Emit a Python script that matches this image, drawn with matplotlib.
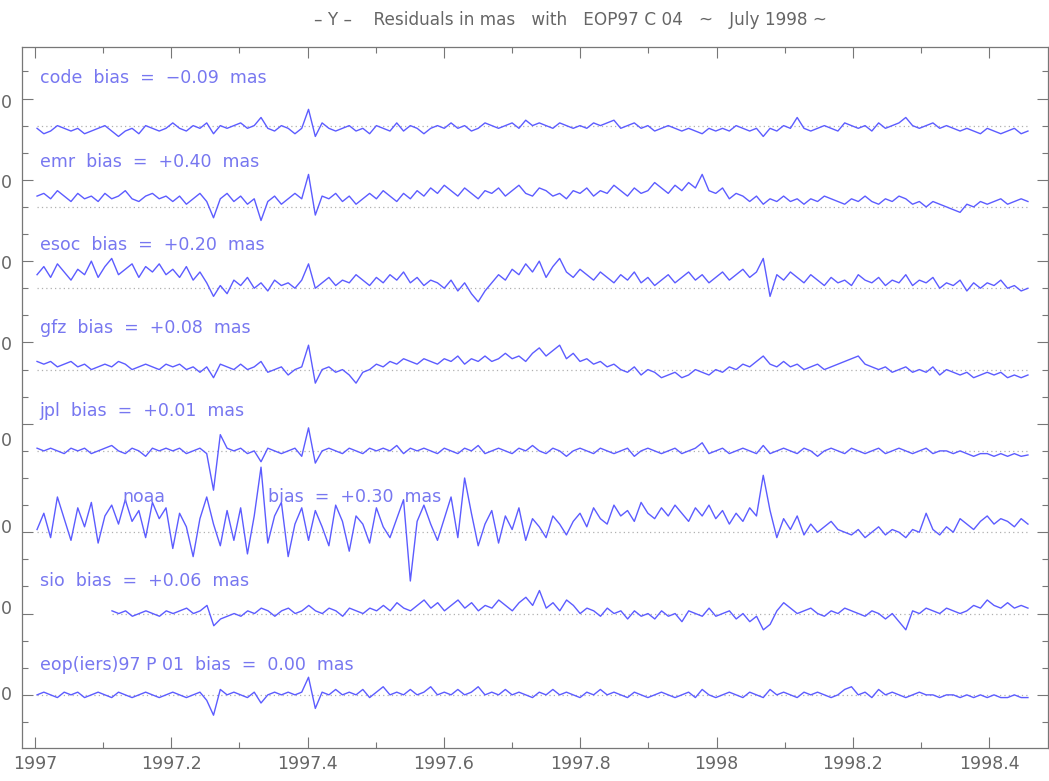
import numpy as np
import matplotlib
matplotlib.use("Agg")
import matplotlib.pyplot as plt
from matplotlib.ticker import FixedLocator, MultipleLocator

# ---------------- data (values in axis units, relative to each series' baseline) ----------------
names = ["code", "emr", "esoc", "gfz", "jpl", "noaa", "sio", "eop(iers)97 P 01"]
bias_text = ["bias  =  \u22120.09  mas", "bias  =  +0.40  mas", "bias  =  +0.20  mas", "bias  =  +0.08  mas",
             "bias  =  +0.01  mas", "bias  =  +0.30  mas", "bias  =  +0.06  mas", "bias  =  0.00  mas"]
baselines = [21, 18, 15, 12, 9, 6, 3, 0]
zero_label_pos = [21.85, 18.9, 15.9, 12.9, 9.35, 6.15, 3.15, 0.0]
major_ticks = [22, 19, 16, 13, 10, 6, 3, 0]
label_y = [22.77, 19.67, 16.6, 13.54, 10.48, 7.3, 4.2, 1.1]

t_start, t_end = 1997.003, 1998.457
sio_start = 1997.113

code = [-0.1,-0.3,-0.2,0.0,-0.1,-0.2,-0.1,-0.3,-0.2,-0.1, 0.0,-0.2,-0.4,-0.2,-0.1,-0.3,0.0,-0.1,-0.2,-0.1,
        0.1,-0.1,-0.2,0.0,-0.1,0.1,-0.3,0.0,-0.1,0.0, 0.1,-0.1,0.0,0.3,-0.1,-0.2,0.0,-0.1,-0.3,-0.1,
        0.6,-0.4,0.1,-0.1,-0.2,-0.1,0.0,-0.2,-0.1,-0.3, 0.0,-0.1,-0.2,0.1,-0.2,0.0,-0.1,-0.3,-0.1,0.0,
        -0.1,0.1,-0.1,0.0,-0.2,-0.1,0.1,0.0,-0.1,0.0, 0.1,-0.1,0.2,0.0,0.1,0.0,-0.1,0.1,0.0,-0.1,
        0.0,-0.1,0.1,0.0,0.1,0.2,-0.1,0.0,0.1,-0.1, 0.0,-0.2,-0.1,0.0,-0.1,-0.2,-0.1,-0.2,-0.3,-0.1,
        -0.2,-0.1,-0.2,0.0,-0.1,-0.2,-0.1,-0.4,-0.1,-0.2, 0.0,-0.1,0.3,-0.1,-0.2,-0.1,0.0,-0.1,-0.2,0.1,
        0.0,-0.1,0.0,-0.2,0.1,-0.1,0.0,0.1,0.3,0.0, -0.1,0.0,0.1,-0.1,0.0,-0.1,-0.2,-0.1,-0.2,-0.3,
        -0.1,-0.2,-0.3,-0.2,-0.1,-0.3,-0.2]

emr = [0.4,0.5,0.3,0.6,0.4,0.2,0.5,0.3,0.4,0.2, 0.5,0.3,0.4,0.6,0.3,0.2,0.4,0.5,0.3,0.4,
       0.2,0.4,0.1,0.3,0.5,0.2,-0.4,0.3,0.5,0.2, 0.4,0.1,0.3,-0.5,0.2,0.4,0.1,0.3,0.5,0.3,
       1.2,-0.3,0.4,0.3,0.5,0.2,0.4,0.1,0.3,0.5, 0.3,0.6,0.4,0.2,0.5,0.3,0.6,0.4,0.7,0.5,
       0.8,0.6,0.4,0.7,0.5,0.3,0.6,0.5,0.7,0.4, 0.6,0.8,0.5,0.4,0.7,0.6,0.4,0.5,0.3,0.6,
       0.5,0.7,0.4,0.6,0.5,0.8,0.6,0.4,0.7,0.5, 0.6,0.9,0.7,0.5,0.8,0.6,0.9,0.7,1.2,0.6,
       0.5,0.7,0.3,0.5,0.4,0.2,0.4,0.1,0.3,0.2, 0.4,0.2,0.3,0.1,0.3,0.2,0.4,0.3,0.2,0.1,
       0.3,0.2,0.4,0.2,0.1,0.3,0.2,0.4,0.3,0.1, 0.2,0.0,0.2,0.1,0.0,-0.1,-0.2,0.1,0.0,0.2,
       0.1,0.2,0.3,0.1,0.2,0.3,0.2]

esoc = [0.5,0.8,0.4,0.9,0.6,0.3,0.7,0.5,1.0,0.4, 0.8,1.1,0.5,0.7,0.9,0.4,0.8,0.6,0.9,0.5,
        0.7,0.4,0.8,0.3,0.6,0.2,-0.3,0.1,-0.2,0.3, 0.1,0.4,0.0,0.2,-0.1,0.3,0.1,0.2,0.0,0.3,
        0.9,0.0,0.2,0.4,0.1,0.3,0.2,0.5,0.3,0.1, 0.4,0.2,0.5,0.3,0.6,0.2,0.4,0.1,0.3,0.2,
        0.0,0.3,-0.1,0.2,-0.2,-0.5,-0.1,0.2,0.5,0.3, 0.7,0.5,0.9,0.6,1.0,0.4,0.8,1.1,0.6,0.4,
        0.7,0.5,0.3,0.6,0.4,0.2,0.5,0.3,0.6,0.2, 0.4,0.1,0.3,0.5,0.2,0.4,0.6,0.3,0.5,0.2,
        0.4,0.6,0.3,0.5,0.7,0.4,0.6,1.1,-0.3,0.5, 0.3,0.6,0.4,0.2,0.5,0.3,0.1,0.4,0.2,0.3,
        0.1,0.5,0.3,0.2,0.4,0.1,0.3,0.2,0.5,0.1, 0.3,0.2,0.4,0.0,0.2,0.1,0.3,-0.1,0.2,0.0,
        0.2,0.1,0.3,0.0,0.1,-0.1,0.0]

gfz = [0.3,0.2,0.3,0.1,0.2,0.3,0.1,0.2,0.0,0.1, 0.2,0.1,0.3,0.2,0.0,0.1,0.2,0.1,0.0,0.2,
       0.1,0.2,0.0,0.1,-0.1,0.1,-0.3,0.2,0.1,0.0, 0.2,0.0,0.1,0.3,-0.1,0.0,0.1,-0.2,0.0,0.1,
       0.9,-0.5,0.0,0.1,-0.1,0.0,-0.2,-0.5,-0.1,0.0, 0.2,0.1,0.3,0.2,0.4,0.3,0.2,0.4,0.3,0.2,
       0.4,0.3,0.5,0.2,0.4,0.3,0.5,0.3,0.4,0.6, 0.4,0.5,0.3,0.6,0.8,0.5,0.7,0.9,0.4,0.6,
       0.3,0.4,0.2,0.3,0.1,0.2,0.0,-0.1,0.1,-0.2, 0.0,-0.1,-0.3,-0.2,-0.1,-0.3,-0.2,0.0,-0.1,-0.2,
       0.0,-0.1,0.1,0.0,0.2,0.1,0.3,0.5,0.2,0.1, 0.3,0.1,0.2,0.0,0.1,0.2,0.0,0.1,0.2,0.3,
       0.4,0.5,0.2,0.1,0.0,0.1,-0.1,0.0,0.1,-0.1, 0.0,-0.1,0.1,-0.2,0.0,-0.1,-0.2,-0.1,-0.3,-0.2,
       -0.1,-0.2,-0.1,-0.3,-0.2,-0.3,-0.2]

jpl = [0.1,0.0,0.1,0.0,-0.1,0.1,0.0,0.1,-0.1,0.0, 0.1,0.2,0.0,-0.1,0.1,0.0,-0.2,0.1,0.0,0.1,
       0.0,0.1,-0.1,0.0,0.1,-0.1,-1.45,0.6,0.1,0.0, 0.1,-0.1,0.0,-0.4,0.1,0.0,-0.1,0.0,0.1,-0.2,
       0.85,-0.45,0.0,0.1,0.0,-0.1,0.1,0.0,-0.1,0.1, 0.0,0.1,0.0,0.2,-0.1,0.1,0.0,0.1,0.0,-0.1,
       0.1,0.0,-0.1,0.1,0.0,0.2,-0.1,0.0,0.1,0.0, -0.1,0.1,0.0,0.2,0.0,-0.1,0.1,0.0,-0.2,0.0,
       0.1,0.0,-0.1,0.1,0.0,-0.1,0.0,0.1,-0.2,0.0, 0.1,0.0,-0.1,0.0,0.1,-0.1,0.0,0.1,0.3,-0.1,
       0.0,0.1,-0.1,0.0,0.1,0.0,-0.1,0.2,-0.1,0.0, 0.1,0.0,-0.1,0.1,0.0,-0.2,0.0,0.1,0.0,-0.1,
       0.1,0.0,-0.1,0.0,0.1,-0.1,0.0,0.1,0.0,-0.1, 0.0,0.1,-0.1,0.0,0.0,-0.1,0.0,-0.1,-0.2,-0.1,
       -0.1,-0.2,-0.1,-0.2,-0.1,-0.2,-0.15]

noaa = [0.1,0.7,-0.2,1.3,0.5,-0.3,0.9,0.2,1.1,-0.4, 0.6,1.0,0.3,1.2,0.4,0.8,-0.2,1.1,0.5,0.9,
        -0.6,0.7,0.2,-0.9,0.5,1.3,0.3,-0.5,0.8,-0.3, 0.9,-0.8,0.6,2.4,-0.4,0.6,1.1,-0.9,0.3,0.9,
        -0.3,0.8,0.2,-0.5,1.0,0.4,-0.7,0.6,0.3,-0.4, 0.9,0.2,-0.2,0.5,1.2,-1.8,0.4,1.0,0.3,-0.3,
        0.5,1.3,-0.2,2.0,0.7,-0.5,0.3,0.8,-0.4,0.6, 0.1,0.9,-0.3,0.5,0.2,-0.2,0.6,0.3,-0.1,0.4,
        0.7,0.2,0.9,0.5,0.3,1.0,0.6,0.8,0.4,1.1, 0.7,0.5,0.9,0.6,1.0,0.7,0.4,0.9,0.6,1.0,
        0.5,0.8,0.3,0.7,0.4,0.9,0.6,2.1,0.8,-0.2, 0.5,0.1,0.6,-0.1,0.3,0.0,0.2,0.4,0.1,0.0,
        -0.1,0.1,-0.2,0.0,0.2,-0.1,0.1,0.0,-0.2,0.1, 0.0,0.7,0.1,-0.1,0.2,0.0,0.5,0.3,0.1,0.4,
        0.6,0.3,0.5,0.4,0.2,0.5,0.3]

sio = [0.1,0.0,0.1,-0.1,0.0,0.1,0.0,-0.1,0.1,0.0, 0.1,0.2,0.0,0.1,0.3,-0.45,-0.2,-0.1,0.0,-0.1,
       0.1,0.0,0.2,0.1,-0.1,0.1,0.2,0.0,0.1,0.3, 0.1,0.0,0.2,0.1,-0.1,0.2,0.1,0.0,0.2,0.1,
       0.3,0.1,0.4,0.2,0.1,0.3,0.5,0.2,0.4,0.1, 0.3,0.5,0.2,0.4,0.1,0.3,0.2,0.5,0.3,0.1,
       0.4,0.6,0.3,0.85,0.2,0.4,0.1,0.5,0.3,0.0, 0.2,0.1,-0.1,0.2,0.0,0.1,-0.2,0.1,-0.1,0.0,
       -0.2,0.1,-0.1,0.0,-0.3,0.1,0.0,-0.1,0.2,-0.1, 0.0,0.1,-0.2,0.0,-0.3,-0.1,-0.6,-0.4,0.1,0.4,
       0.2,0.0,0.1,0.2,0.0,-0.1,0.1,0.0,0.2,0.1, 0.0,-0.1,0.1,0.0,-0.2,0.0,-0.3,-0.6,0.1,0.0,
       0.2,0.1,0.0,0.2,0.1,0.0,0.1,0.3,0.2,0.5, 0.3,0.2,0.4,0.2,0.3,0.2]

eop = [0.0,0.1,0.0,-0.1,0.1,0.0,0.1,-0.1,0.0,0.1, 0.0,-0.1,0.1,0.0,-0.1,0.0,0.1,0.0,-0.1,0.0,
       0.1,0.0,-0.1,0.0,0.1,-0.2,-0.75,0.2,0.0,0.1, 0.0,-0.1,0.1,-0.3,0.0,0.1,0.0,0.1,0.0,0.1,
       0.65,-0.5,0.1,0.0,0.2,0.0,0.1,0.0,0.2,-0.1, 0.1,0.3,0.0,0.1,0.0,0.2,0.0,0.1,0.3,0.0,
       0.1,0.0,0.2,0.0,0.1,0.3,0.0,0.1,0.0,0.2, 0.0,0.1,0.0,-0.1,0.1,0.0,0.2,0.0,0.1,0.0,
       -0.1,0.1,0.0,0.2,0.0,0.1,0.0,-0.1,0.1,0.0, -0.1,0.0,0.1,0.0,-0.1,0.0,0.1,-0.1,0.2,0.0,
       -0.1,0.0,0.1,0.0,-0.1,0.1,0.0,-0.1,0.2,0.0, 0.1,0.0,-0.1,0.1,0.0,0.1,0.0,-0.1,0.0,0.2,
       0.3,0.0,0.1,-0.1,0.2,0.0,0.1,0.0,-0.1,0.0, 0.1,0.0,0.0,-0.1,0.0,0.0,-0.1,0.0,-0.1,0.0,
       -0.1,0.0,-0.1,-0.1,0.0,-0.1,-0.1]

series = [code, emr, esoc, gfz, jpl, noaa, sio, eop]
starts = [t_start] * 6 + [sio_start] + [t_start]

xtick_major = [1997.0, 1997.2, 1997.4, 1997.6, 1997.8, 1998.0, 1998.2, 1998.4]
xtick_labels = ["1997", "1997.2", "1997.4", "1997.6", "1997.8", "1998", "1998.2", "1998.4"]

# ---------------- figure ----------------
W, H = 1049, 781
fig = plt.figure(figsize=(W / 100, H / 100), dpi=100)
ax = fig.add_axes([22 / W, (H - 748) / H, (1048 - 22) / W, (748 - 47) / H])

line_c = "#5c5cff"
text_c = "#7777f0"
gray = "#777777"

for vals, base, st in zip(series, baselines, starts):
    v = np.asarray(vals, dtype=float)
    t = np.linspace(st, t_end, len(v))
    ax.hlines(base, st, t_end, colors="#b0b0b0", linestyles=(0, (1, 2.5)), linewidth=0.9, zorder=1)
    ax.plot(t, v + base, color=line_c, lw=1.0, zorder=2)

# series labels
fs_lab = 12.5
for i, (nm, bt, ly) in enumerate(zip(names, bias_text, label_y)):
    if nm == "noaa":
        ax.text(1997.128, ly, nm, color=text_c, fontsize=fs_lab, va="center", ha="left")
        ax.text(1997.342, ly, bt, color=text_c, fontsize=fs_lab, va="center", ha="left")
    else:
        ax.text(1997.007, ly, nm + "  " + bt, color=text_c, fontsize=fs_lab, va="center", ha="left")

# zero labels on the left (clipped, as in the original)
for yl in zero_label_pos:
    ax.text(-0.0095, yl, "0", transform=ax.get_yaxis_transform(), ha="right", va="center",
            fontsize=12.5, color="#666666", clip_on=False)

ax.set_xlim(1997.0 - 13 / 681.5, 1997.0 + (1048 - 35) / 681.5)
ax.set_ylim(-1.96, 23.9)

ax.xaxis.set_major_locator(FixedLocator(xtick_major))
ax.set_xticklabels(xtick_labels)
ax.xaxis.set_minor_locator(MultipleLocator(0.1))
ax.yaxis.set_major_locator(FixedLocator(major_ticks))
ax.yaxis.set_minor_locator(MultipleLocator(1))
ax.set_yticklabels([])

ax.tick_params(which="both", direction="in", top=True, right=True, color=gray, width=0.8)
ax.tick_params(which="major", length=8)
ax.tick_params(which="minor", length=4)
ax.tick_params(axis="x", labelsize=12.5, labelcolor="#666666", pad=5)

for sp in ax.spines.values():
    sp.set_color(gray)
    sp.set_linewidth(0.9)

fig.text(570 / W, 1 - 20 / H,
         "\u2013 Y \u2013    Residuals in mas   with   EOP97 C 04   ~   July 1998 ~",
         ha="center", va="center", fontsize=12.2, color="#666666")

fig.savefig("out.png", dpi=100)
